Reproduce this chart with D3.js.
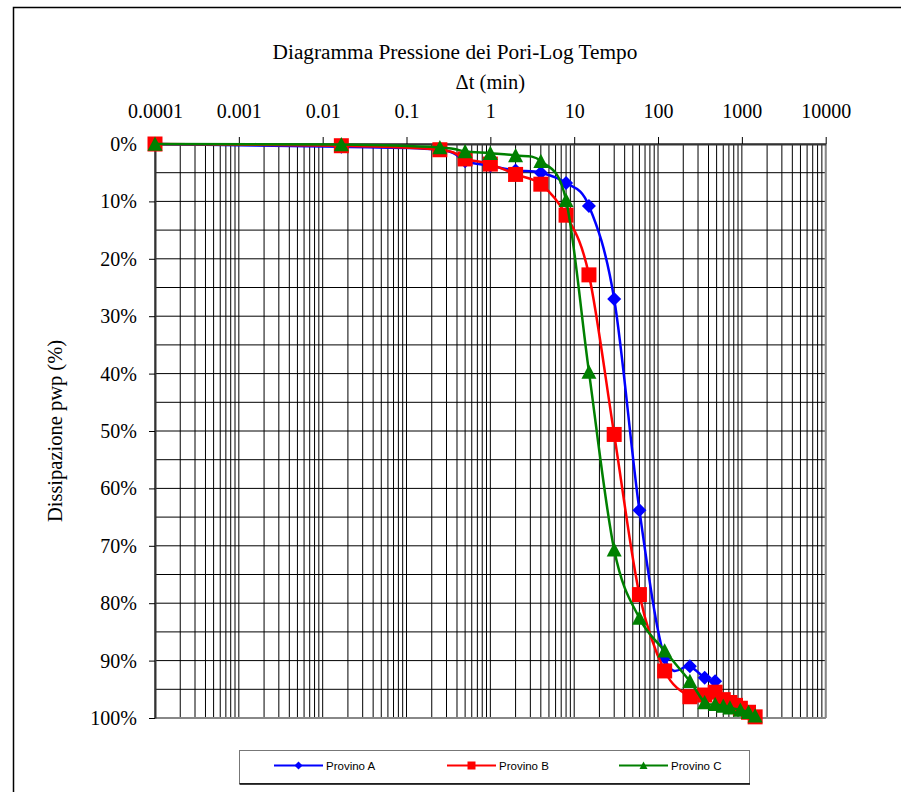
<!DOCTYPE html>
<html><head><meta charset="utf-8">
<script src="https://cdn.jsdelivr.net/npm/d3@7"></script>
<style>body{margin:0;background:#fff}svg{display:block}</style>
</head><body>
<svg id="chart" width="901" height="792"></svg>
<script>
// ---- data ----
const chartTitle = "Diagramma Pressione dei Pori-Log Tempo";
const xTitle = "\u0394t (min)";
const yTitle = "Dissipazione pwp (%)";
const xTickValues = [0.0001, 0.001, 0.01, 0.1, 1, 10, 100, 1000, 10000];
const xTickLabels = ["0.0001", "0.001", "0.01", "0.1", "1", "10", "100", "1000", "10000"];
const yTickValues = [0, 10, 20, 30, 40, 50, 60, 70, 80, 90, 100];
const yTickLabels = ["0%", "10%", "20%", "30%", "40%", "50%", "60%", "70%", "80%", "90%", "100%"];
const seriesNames = ["Provino A", "Provino B", "Provino C"];

const timeA = [0.0001, 0.0167, 0.25, 0.5, 1, 2, 4, 8, 15, 30, 60, 120, 240, 360, 480];
const valA  = [0, 0.5, 1.0, 3.0, 3.8, 4.6, 5.0, 6.8, 10.8, 27.0, 63.8, 89.5, 91.0, 93.0, 93.6];

const timeB = [0.0001, 0.0167, 0.25, 0.5, 1, 2, 4, 8, 15, 30, 60, 120, 240, 360, 480, 600, 720, 840, 960, 1200, 1440];
const valB  = [0, 0.3, 1.0, 2.6, 3.5, 5.3, 7.0, 12.4, 22.8, 50.6, 78.5, 91.8, 96.3, 96.0, 95.5, 96.8, 97.3, 97.8, 98.3, 99.0, 99.8];

const timeC = [0.0001, 0.0167, 0.25, 0.5, 1, 2, 4, 8, 15, 30, 60, 120, 240, 360, 480, 600, 720, 960, 1200, 1440];
const valC  = [0, 0.1, 0.6, 1.3, 1.6, 2.0, 3.0, 9.8, 39.7, 70.7, 82.6, 88.3, 93.6, 97.3, 97.6, 97.9, 98.2, 98.6, 99.0, 99.6];

const seriesColors = ["#0000ff", "#ff0000", "#008000"];

// custom marker shapes (size = half-width in px)
const diamond = { draw(c, r) { c.moveTo(0, -r); c.lineTo(r, 0); c.lineTo(0, r); c.lineTo(-r, 0); c.closePath(); } };
const square = { draw(c, r) { c.rect(-r, -r, 2 * r, 2 * r); } };
const triangle = { draw(c, r) { c.moveTo(0, -r); c.lineTo(r, r * 0.9); c.lineTo(-r, r * 0.9); c.closePath(); } };
const seriesSymbols = [diamond, square, triangle];

// ---- chart ----
const svg = d3.select("#chart");
const L = 155, R = 825.7, T = 144, B = 718;
const x = d3.scaleLog().domain([1e-4, 1e4]).range([L, R]);
const y = d3.scaleLinear().domain([0, 100]).range([T, B]);
const serif = "'Liberation Serif','Times New Roman',serif";

// outer border
svg.append("rect").attr("x", 13.5).attr("y", 7.5).attr("width", 950).attr("height", 900)
  .attr("fill", "none").attr("stroke", "#000").attr("stroke-width", 1.5);

// grid
const grid = svg.append("g");
const minor = [];
for (let e = -4; e < 4; e++) for (let m = 1; m <= 9; m++) minor.push(m * Math.pow(10, e));
minor.push(1e4);
grid.selectAll("line.v").data(minor).join("line")
  .attr("x1", d => x(d)).attr("x2", d => x(d)).attr("y1", T).attr("y2", B)
  .attr("stroke", "#000").attr("stroke-width", 1);
const hvals = d3.range(0, 101, 5);
grid.selectAll("line.h").data(hvals).join("line")
  .attr("x1", L).attr("x2", R).attr("y1", d => y(d)).attr("y2", d => y(d))
  .attr("stroke", "#000").attr("stroke-width", 1);
svg.append("line").attr("x1", L).attr("x2", R).attr("y1", B).attr("y2", B).attr("stroke", "#888").attr("stroke-width", 2);
svg.append("line").attr("x1", R).attr("x2", R).attr("y1", T).attr("y2", B).attr("stroke", "#888").attr("stroke-width", 2);

// axes
const fmtX = d => xTickLabels[xTickValues.indexOf(d)];
const xAxis = svg.append("g").attr("transform", `translate(0,${T})`)
  .call(d3.axisTop(x).tickValues(xTickValues).tickFormat(fmtX).tickSize(7).tickPadding(19).tickSizeOuter(0));
xAxis.select(".domain").attr("stroke", "#333").attr("stroke-width", 2);
xAxis.selectAll(".tick line").attr("stroke", "#000");
xAxis.selectAll("text").attr("font-family", serif).attr("font-size", 20).attr("fill", "#000");

const fmtY = d => yTickLabels[yTickValues.indexOf(d)];
const yAxis = svg.append("g").attr("transform", `translate(${L},0)`)
  .call(d3.axisLeft(y).tickValues(yTickValues).tickFormat(fmtY).tickSize(6).tickPadding(12).tickSizeOuter(0));
yAxis.select(".domain").attr("stroke", "#333").attr("stroke-width", 2);
yAxis.selectAll(".tick line").attr("stroke", "#000");
yAxis.selectAll("text").attr("font-family", serif).attr("font-size", 20).attr("fill", "#000");

// titles
svg.append("text").attr("x", 455).attr("y", 59).attr("text-anchor", "middle")
  .attr("font-family", serif).attr("font-size", 21.3).text(chartTitle);
svg.append("text").attr("x", (L + R) / 2).attr("y", 89).attr("text-anchor", "middle")
  .attr("font-family", serif).attr("font-size", 20.5).text(xTitle);
svg.append("text").attr("transform", `translate(62,${(T + B) / 2}) rotate(-90)`).attr("text-anchor", "middle")
  .attr("font-family", serif).attr("font-size", 20.5).text(yTitle);

// series
const series = [
  { t: timeA, v: valA },
  { t: timeB, v: valB },
  { t: timeC, v: valC }
];
const line = d3.line().x(d => x(d[0])).y(d => y(d[1])).curve(d3.curveCardinal.tension(0));
const symR = [7, 7.5, 7.5];
series.forEach((s, i) => {
  const pts = s.t.map((t, k) => [t, s.v[k]]);
  const g = svg.append("g");
  g.append("path").attr("d", line(pts)).attr("fill", "none")
    .attr("stroke", seriesColors[i]).attr("stroke-width", 2.5);
  g.selectAll("path.m").data(pts).join("path")
    .attr("transform", d => `translate(${x(d[0])},${y(d[1])})`)
    .attr("d", d3.symbol().type(seriesSymbols[i]).size(symR[i]))
    .attr("fill", seriesColors[i]);
});

// legend
const lg = svg.append("g");
lg.append("rect").attr("x", 239.5).attr("y", 750.5).attr("width", 510).attr("height", 33)
  .attr("fill", "#fff").attr("stroke", "#777").attr("stroke-width", 1);
lg.append("line").attr("x1", 239.5).attr("x2", 750).attr("y1", 784).attr("y2", 784).attr("stroke", "#000").attr("stroke-width", 1.5);
const legX = [274, 447, 619];
seriesNames.forEach((n, i) => {
  const cy = 765.5;
  lg.append("line").attr("x1", legX[i]).attr("x2", legX[i] + 49).attr("y1", cy).attr("y2", cy)
    .attr("stroke", seriesColors[i]).attr("stroke-width", 2);
  lg.append("path").attr("transform", `translate(${legX[i] + 24.5},${cy})`)
    .attr("d", d3.symbol().type(seriesSymbols[i]).size(4)).attr("fill", seriesColors[i]);
  lg.append("text").attr("x", legX[i] + 52).attr("y", cy + 4)
    .attr("font-family", "'Liberation Sans',Arial,sans-serif").attr("font-size", 11.5).text(n);
});
</script>
</body></html>
